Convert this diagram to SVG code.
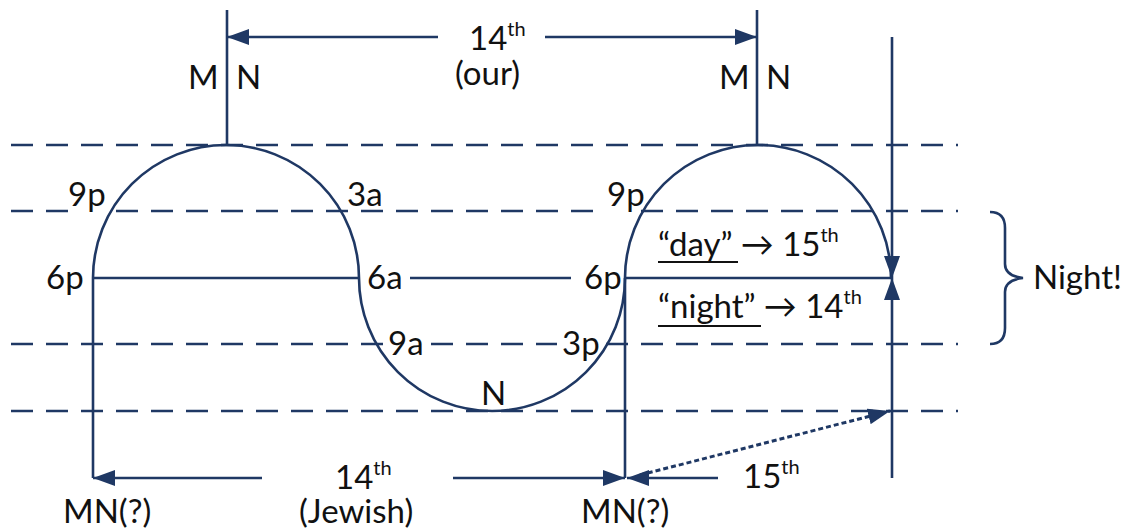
<svg xmlns="http://www.w3.org/2000/svg" width="1125" height="529" viewBox="0 0 1125 529">
<style>
.ln{stroke:#1f3864;stroke-width:2.6;fill:none}
.dash{stroke:#1f3864;stroke-width:2.6;fill:none;stroke-dasharray:22 13}
.dot{stroke:#1f3864;stroke-width:3;fill:none;stroke-dasharray:5 3}
.t{font-family:Lato,"Open Sans","Liberation Sans",sans-serif;font-size:33px;fill:#111}
.s{font-size:20px}
.bg{fill:#fff}
</style>
<defs>
<marker id="ah" markerUnits="userSpaceOnUse" markerWidth="23" markerHeight="16" refX="22" refY="8" orient="auto">
<path d="M0,0 L22,8 L0,16 z" fill="#1f3864"/>
</marker>
</defs>
<rect width="1125" height="529" fill="#fff"/>
<g id="guides">
<line class="dash" x1="11" y1="145" x2="958" y2="145"/>
<line class="dash" x1="11" y1="211" x2="958" y2="211"/>
<line class="dash" x1="11" y1="344" x2="958" y2="344"/>
<line class="dash" x1="11" y1="411" x2="958" y2="411"/>
</g>
<g id="label-backs">
<rect class="bg" x="68" y="184" width="37" height="30"/>
<rect class="bg" x="606" y="184" width="30" height="30"/>
<rect class="bg" x="384" y="330" width="46" height="28"/>
<rect class="bg" x="557" y="330" width="45" height="28"/>
</g>
<g id="curve">
<path class="ln" d="M93,278 A133,133 0 0 1 359,278 A133,133 0 0 0 625,278 A133,133 0 0 1 891,278"/>
</g>
<g id="connectors">
<line class="ln" x1="227" y1="10" x2="227" y2="145"/>
<line class="ln" x1="757" y1="10" x2="757" y2="145"/>
<line class="ln" x1="93" y1="278" x2="93" y2="478"/>
<line class="ln" x1="625" y1="278" x2="625" y2="478"/>
<line class="ln" x1="93" y1="278" x2="359" y2="278"/>
<line class="ln" x1="410" y1="278" x2="571" y2="278"/>
<line class="ln" x1="625" y1="278" x2="892" y2="278"/>
<line class="ln" x1="892" y1="37" x2="892" y2="278" marker-end="url(#ah)"/>
<line class="ln" x1="892" y1="478" x2="892" y2="278" marker-end="url(#ah)"/>
<line class="ln" x1="438" y1="37" x2="227" y2="37" marker-end="url(#ah)"/>
<line class="ln" x1="545" y1="37" x2="757" y2="37" marker-end="url(#ah)"/>
<line class="ln" x1="262" y1="478" x2="93" y2="478" marker-end="url(#ah)"/>
<line class="ln" x1="453" y1="478" x2="625" y2="478" marker-end="url(#ah)"/>
<line class="ln" x1="718" y1="478" x2="627" y2="478" marker-end="url(#ah)"/>
<line class="dot" x1="640" y1="475" x2="890" y2="411" marker-end="url(#ah)"/>
<path class="ln" d="M990,212 Q1005,212 1005,228 L1005,264 Q1005,276 1023,278 Q1005,280 1005,292 L1005,328 Q1005,344 990,344"/>
</g>
<g id="top-labels">
<text class="t" x="469" y="50">14<tspan class="s" dy="-14">th</tspan></text>
<text class="t" x="455" y="85">(our)</text>
<text class="t" x="188" y="89">M</text>
<text class="t" x="236" y="89">N</text>
<text class="t" x="719" y="89">M</text>
<text class="t" x="766" y="89">N</text>
</g>
<g id="hour-labels">
<text class="t" x="68" y="206">9p</text>
<text class="t" x="347" y="206">3a</text>
<text class="t" x="607" y="206">9p</text>
<text class="t" x="46" y="289">6p</text>
<text class="t" x="367" y="289">6a</text>
<text class="t" x="584" y="289">6p</text>
<text class="t" x="388" y="355">9a</text>
<text class="t" x="562" y="355">3p</text>
<text class="t" x="481" y="405">N</text>
</g>
<g id="day-night">
<text class="t" x="658" y="256">“day” → 15<tspan class="s" dy="-14">th</tspan></text>
<line x1="658" y1="262" x2="738" y2="262" stroke="#111" stroke-width="2"/>
<text class="t" x="658" y="318">“night” → 14<tspan class="s" dy="-14">th</tspan></text>
<line x1="658" y1="326" x2="761" y2="326" stroke="#111" stroke-width="2"/>
<text class="t" x="1033" y="289">Night!</text>
</g>
<g id="bottom-labels">
<text class="t" x="335" y="489">14<tspan class="s" dy="-14">th</tspan></text>
<text class="t" x="299" y="523">(Jewish)</text>
<text class="t" x="63" y="523">MN(?)</text>
<text class="t" x="581" y="523">MN(?)</text>
<text class="t" x="743" y="488">15<tspan class="s" dy="-14">th</tspan></text>
</g>
</svg>
